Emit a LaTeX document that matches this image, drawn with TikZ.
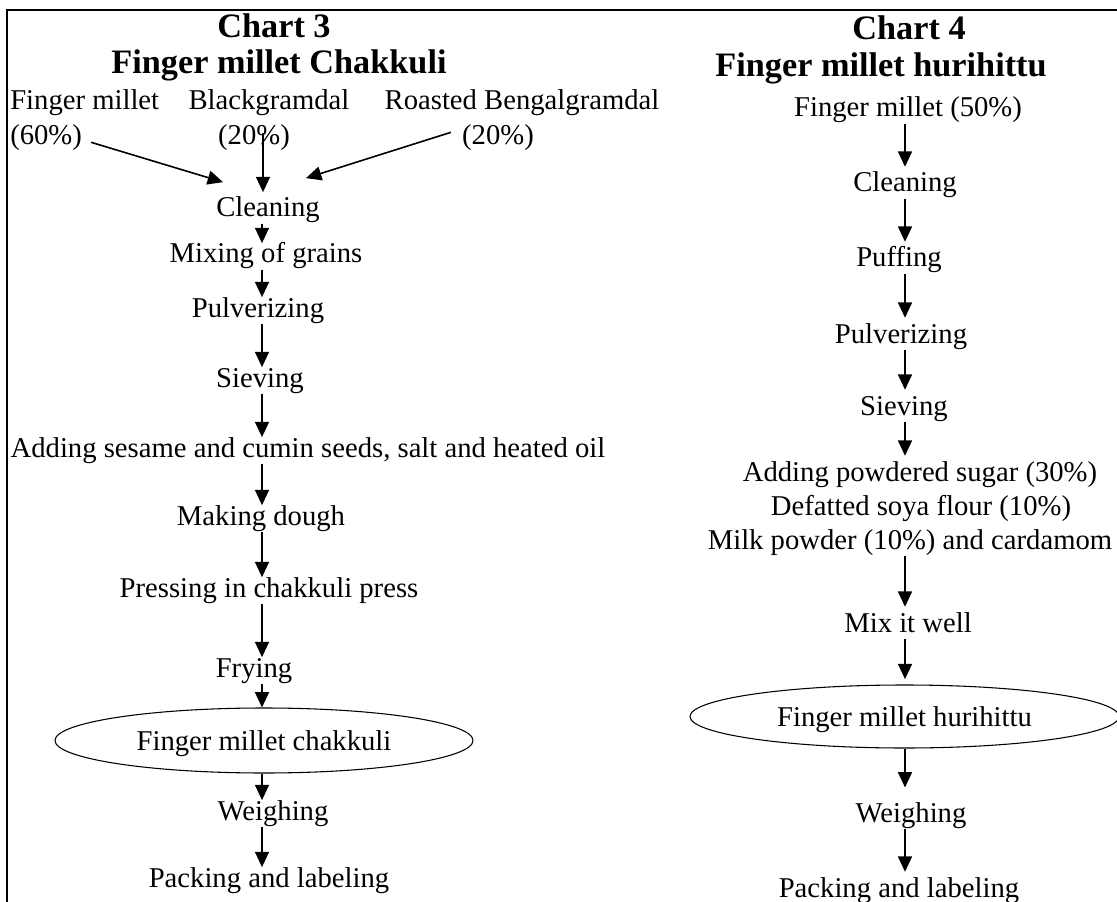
\documentclass[tikz,border=0pt]{standalone}
\usepackage{fontspec}
\setmainfont{Liberation Serif}
\usepackage{tikz}
\usetikzlibrary{calc, shapes.geometric, positioning, arrows.meta}

\begin{document}
\begin{tikzpicture}[x=0.75pt, y=0.75pt, >={Triangle[length=11.5pt, width=10.5pt]},
    txt/.style={inner sep=0pt, font=\fontsize{21.5}{25}\selectfont, text height=14.7pt, text depth=4.7pt},
    ttl/.style={inner sep=0pt, font=\fontsize{25.7}{30}\selectfont\bfseries},
    flow/.style={->, line width=1.2pt},
    prod/.style={txt, draw, ellipse, line width=0.8pt, text depth=0pt}]
                \useasboundingbox (0,0) rectangle (1117,-902);
                % 1. Khung
                \draw[line width=1.5pt] (1117,-10) -- (7,-10) -- (7,-902);
                \coordinate (axL) at (262,0);
                \coordinate (axR) at (905,0);
                
                % 2. Chart 3
                \node[ttl, anchor=base] (t3) at (274,-38) {Chart 3};
                \node[ttl, anchor=base] (t3name) at (279,-74) {Finger millet Chakkuli};
                \node[txt, anchor=base west] (fm1) at (10,-110) {Finger millet};
                \node[txt, anchor=base west] (fm2) at (10,-145) {(60\%)};
                \node[txt, anchor=base] (bg1) at (269,-110) {Blackgramdal};
                \node[txt, anchor=base] (bg2) at (254,-145) {(20\%)};
                \node[txt, anchor=base] (rb1) at (522,-110) {Roasted Bengalgramdal};
                \node[txt, anchor=base] (rb2) at (498,-145) {(20\%)};
                \node[txt, anchor=base] (clean) at (268,-217) {Cleaning};
                \node[txt, anchor=base] (mix) at (266,-263) {Mixing of grains};
                \node[txt, anchor=base] (pulv) at (258,-317) {Pulverizing};
                \node[txt, anchor=base] (sieve) at (260,-387) {Sieving};
                \node[txt, anchor=base] (add) at (308,-457) {Adding sesame and cumin seeds, salt and heated oil};
                \node[txt, anchor=base] (dough) at (261,-525) {Making dough};
                \node[txt, anchor=base] (press) at (269,-597) {Pressing in chakkuli press};
                \node[txt, anchor=base] (fry) at (254,-677) {Frying};
                \node[prod, minimum width=313.5pt, minimum height=48.75pt] (chak) at (264,-740.5) {Finger millet chakkuli};
                \node[txt, anchor=base] (weighL) at (273,-820) {Weighing};
                \node[txt, anchor=base] (packL) at (269,-887) {Packing and labeling};
                
                \draw[flow] ($(fm2.east)+(9,-4)$) -- ($(clean.north)+(-45,15)$);
                \draw[flow] ($(bg2.center)+(9,5)$) -- ($(clean.north)+(-5,5)$);
                \draw[flow] ($(rb2.west)+(-11,6)$) -- ($(clean.north)+(38,19)$);
                \foreach \a/\b in {clean/mix, mix/pulv, pulv/sieve, sieve/add, add/dough,
                    dough/press, press/fry, fry/chak, chak/weighL, weighL/packL} {
                    \draw[flow] (\a.south -| axL) -- (\b.north -| axL);
                }
                
                % 3. Chart 4
                \node[ttl, anchor=base] (t4) at (909,-40) {Chart 4};
                \node[ttl, anchor=base] (t4name) at (881,-77) {Finger millet hurihittu};
                \node[txt, anchor=base] (fm50) at (908,-117) {Finger millet (50\%)};
                \node[txt, anchor=base] (cleanR) at (905,-192) {Cleaning};
                \node[txt, anchor=base] (puff) at (899,-267) {Puffing};
                \node[txt, anchor=base] (pulvR) at (901,-343) {Pulverizing};
                \node[txt, anchor=base] (sieveR) at (904,-415) {Sieving};
                \node[txt, anchor=base] (sugar) at (920,-481) {Adding powdered sugar (30\%)};
                \node[txt, anchor=base] (soya) at (921,-515) {Defatted soya flour (10\%)};
                \node[txt, anchor=base] (milk) at (910,-549) {Milk powder (10\%) and cardamom};
                \node[txt, anchor=base] (mixR) at (908,-632) {Mix it well};
                \node[prod, minimum width=321.75pt, minimum height=47.25pt] (huri) at (904.5,-716.5) {Finger millet hurihittu};
                \node[txt, anchor=base] (weighR) at (911,-822) {Weighing};
                \node[txt, anchor=base] (packR) at (899,-897) {Packing and labeling};
                
                \foreach \a/\b in {fm50/cleanR, cleanR/puff, puff/pulvR, pulvR/sieveR,
                    sieveR/sugar, milk/mixR, mixR/huri, weighR/packR} {
                    \draw[flow, shorten >=4pt] (\a.south -| axR) -- (\b.north -| axR);
                }
                \draw[flow, shorten >=11pt] (huri.south -| axR) -- (weighR.north -| axR);
            \end{tikzpicture}
\end{document}
